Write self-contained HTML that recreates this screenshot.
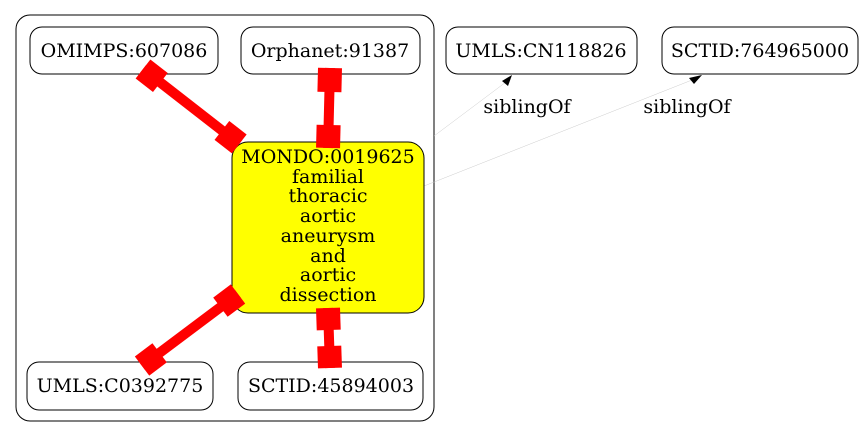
<!DOCTYPE html>
<html><head><meta charset="utf-8"><style>
body{margin:0;background:#fff;}
svg{display:block;}
text{font-family:"DejaVu Serif","Liberation Serif",serif;font-size:19px;fill:#000;}
</style></head><body>
<svg width="864" height="437" viewBox="0 0 864 437" xmlns="http://www.w3.org/2000/svg">
<rect x="16" y="15" width="418" height="406" rx="14" fill="none" stroke="#000" stroke-width="1"/>
<line x1="434" y1="136" x2="506" y2="82" stroke="#ccc" stroke-width="0.5"/>
<polygon points="512,75 502,81 508,86" fill="#000"/>
<line x1="424" y1="186" x2="692" y2="80" stroke="#ccc" stroke-width="0.5"/>
<polygon points="702,75 689,78 694,84" fill="#000"/>
<g text-anchor="middle">
<text x="527" y="113">siblingOf</text>
<text x="687" y="113">siblingOf</text>
<rect x="30" y="27" width="188" height="47" rx="12" fill="#fff" stroke="#000"/>
<text x="124" y="57">OMIMPS:607086</text>
<rect x="241" y="27" width="179" height="47" rx="12" fill="#fff" stroke="#000"/>
<text x="330" y="57">Orphanet:91387</text>
<rect x="446" y="27" width="191" height="47" rx="12" fill="#fff" stroke="#000"/>
<text x="541" y="57">UMLS:CN118826</text>
<rect x="662" y="27" width="196" height="47" rx="12" fill="#fff" stroke="#000"/>
<text x="760" y="57">SCTID:764965000</text>
<rect x="232" y="142" width="192" height="171" rx="16" fill="#ff0" stroke="#000"/>
<text x="328" y="163">MONDO:0019625</text>
<text x="328" y="183">familial</text>
<text x="328" y="202">thoracic</text>
<text x="328" y="222">aortic</text>
<text x="328" y="242">aneurysm</text>
<text x="328" y="262">and</text>
<text x="328" y="281">aortic</text>
<text x="328" y="301">dissection</text>
<rect x="27" y="362" width="186" height="48" rx="12" fill="#fff" stroke="#000"/>
<text x="120" y="392">UMLS:C0392775</text>
<rect x="238" y="362" width="185" height="48" rx="12" fill="#fff" stroke="#000"/>
<text x="331" y="392">SCTID:45894003</text>
</g>
<g fill="red">
<g transform="translate(143,69) rotate(37.9)">
<rect x="0" y="-5" width="122" height="10"/><rect x="0" y="-12" width="22" height="24"/><rect x="100" y="-12" width="22" height="24"/>
</g>
<g transform="translate(330,68) rotate(91.4)">
<rect x="0" y="-5" width="80" height="10"/><rect x="0" y="-12" width="24" height="24"/><rect x="57" y="-12" width="23" height="24"/>
</g>
<g transform="translate(238,294) rotate(143.1)">
<rect x="0" y="-5" width="120" height="10"/><rect x="0" y="-12" width="22" height="24"/><rect x="98" y="-12" width="22" height="24"/>
</g>
<g transform="translate(328,308) rotate(88.1)">
<rect x="0" y="-5" width="60" height="10"/><rect x="0" y="-12" width="22" height="24"/><rect x="38" y="-12" width="22" height="24"/>
</g>
</g>
</svg>
</body></html>
